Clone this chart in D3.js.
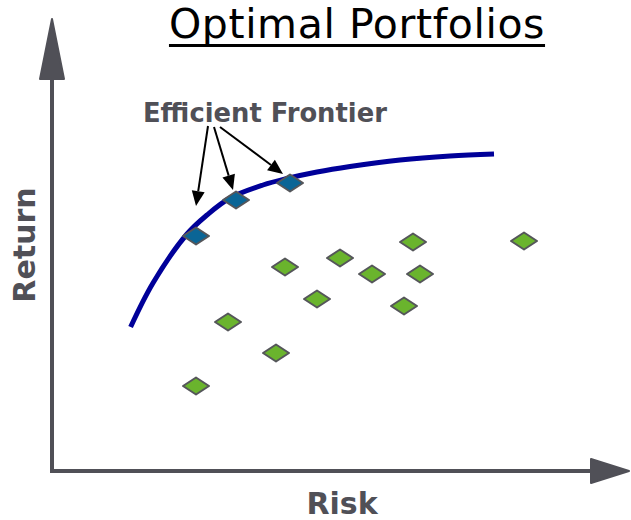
<!DOCTYPE html>
<html>
<head>
<meta charset="utf-8">
<script src="https://cdn.jsdelivr.net/npm/d3@7"></script>
<style>
  html, body { margin: 0; padding: 0; background: #fff; }
  svg { display: block; }
</style>
</head>
<body>
<svg id="chart" width="631" height="520"></svg>
<script>
// Random portfolios (risk, return)
const portfolioRisk   = [11.65, 13.25, 14.4, 16.0, 18.05, 18.4, 17.6, 8.8, 11.2, 7.2, 23.6];
const portfolioReturn = [10.2, 8.6, 10.65, 9.85, 11.45, 9.85, 8.25, 7.45, 5.9, 4.25, 11.5];

// Portfolios lying on the efficient frontier
const efficientRisk   = [7.2, 9.2, 11.9];
const efficientReturn = [11.75, 13.55, 14.4];

// Efficient frontier curve
const frontierRisk   = [3.93, 5.05, 6.75, 7.75, 8.9, 10.55, 11.75, 13.25, 14.9, 17.4, 19.9, 22.1];
const frontierReturn = [7.2, 9.4, 11.85, 12.8, 13.65, 14.3, 14.625, 14.95, 15.225, 15.55, 15.75, 15.85];

// Annotation arrow targets (risk, return)
const arrowRisk   = [7.2, 9.05, 11.55];
const arrowReturn = [13.25, 14.05, 14.85];

const titleText = "Optimal Portfolios";
const annotationText = "Efficient Frontier";
const xLabel = "Risk";
const yLabel = "Return";

const svg = d3.select("#chart");
const axisColor = "#505057";

const x = d3.scaleLinear().domain([0, 28.85]).range([52, 629]);
const y = d3.scaleLinear().domain([0, 22.6]).range([471, 19]);

// Title with underline
const title = svg.append("text")
  .attr("x", 357).attr("y", 38)
  .attr("text-anchor", "middle")
  .attr("font-family", "DejaVu Sans, Verdana, sans-serif")
  .attr("font-size", 41)
  .attr("letter-spacing", 0.6)
  .attr("fill", "#000")
  .text(titleText);
const tb = title.node().getBBox();
svg.append("line")
  .attr("x1", tb.x).attr("x2", tb.x + tb.width)
  .attr("y1", 45.5).attr("y2", 45.5)
  .attr("stroke", "#000").attr("stroke-width", 3);

// Axes with arrowheads
const [xLeft, xTip] = x.range();
const [yBottom, yTip] = y.range();
svg.append("line")
  .attr("x1", xLeft).attr("x2", xLeft)
  .attr("y1", yBottom + 2).attr("y2", yTip + 50)
  .attr("stroke", axisColor).attr("stroke-width", 4);
svg.append("line")
  .attr("x1", xLeft - 2).attr("x2", xTip - 30)
  .attr("y1", yBottom).attr("y2", yBottom)
  .attr("stroke", axisColor).attr("stroke-width", 4);
// y arrowhead
svg.append("path")
  .attr("d", `M${xLeft},${yTip} L${xLeft + 12},${yTip + 60} L${xLeft - 12},${yTip + 60} Z`)
  .attr("fill", axisColor).attr("stroke", axisColor).attr("stroke-width", 2).attr("stroke-linejoin", "round");
// x arrowhead
svg.append("path")
  .attr("d", `M${xTip},${yBottom} L${xTip - 38},${yBottom - 12} L${xTip - 38},${yBottom + 12} Z`)
  .attr("fill", axisColor).attr("stroke", axisColor).attr("stroke-width", 2).attr("stroke-linejoin", "round");

// Axis labels
svg.append("text")
  .attr("x", 342).attr("y", 514)
  .attr("text-anchor", "middle")
  .attr("font-family", "DejaVu Sans, Verdana, sans-serif")
  .attr("font-weight", "bold").attr("font-size", 30)
  .attr("fill", axisColor)
  .text(xLabel);
svg.append("text")
  .attr("transform", "translate(35,245) rotate(-90)")
  .attr("text-anchor", "middle")
  .attr("font-family", "DejaVu Sans, Verdana, sans-serif")
  .attr("font-weight", "bold").attr("font-size", 30)
  .attr("fill", axisColor)
  .text(yLabel);

// Efficient frontier curve
const frontier = frontierRisk.map((r, i) => [r, frontierReturn[i]]);
const line = d3.line()
  .x(d => x(d[0])).y(d => y(d[1]))
  .curve(d3.curveCatmullRom.alpha(0.5));
svg.append("path")
  .datum(frontier)
  .attr("d", line)
  .attr("fill", "none")
  .attr("stroke", "#000099")
  .attr("stroke-width", 5);

// Diamond markers
const diamond = (cx, cy) => `M${cx - 13},${cy} L${cx},${cy - 8.5} L${cx + 13},${cy} L${cx},${cy + 8.5} Z`;

const portfolios = portfolioRisk.map((r, i) => ({ risk: r, ret: portfolioReturn[i] }));
svg.append("g").selectAll("path")
  .data(portfolios)
  .join("path")
  .attr("d", d => diamond(x(d.risk), y(d.ret)))
  .attr("fill", "#6ab42d")
  .attr("stroke", "#55565a")
  .attr("stroke-width", 2)
  .attr("stroke-linejoin", "round");

const efficient = efficientRisk.map((r, i) => ({ risk: r, ret: efficientReturn[i] }));
svg.append("g").selectAll("path")
  .data(efficient)
  .join("path")
  .attr("d", d => diamond(x(d.risk), y(d.ret)))
  .attr("fill", "#0a6596")
  .attr("stroke", "#55565a")
  .attr("stroke-width", 2)
  .attr("stroke-linejoin", "round");

// Annotation label
svg.append("text")
  .attr("x", 143).attr("y", 122)
  .attr("font-family", "DejaVu Sans, Verdana, sans-serif")
  .attr("font-weight", "bold").attr("font-size", 25.8)
  .attr("fill", axisColor)
  .text(annotationText);

// Annotation arrows
const starts = [[208, 126], [214, 127], [220, 127]];
const arrows = svg.append("g");
arrowRisk.forEach((r, i) => {
  const tx = x(r), ty = y(arrowReturn[i]);
  const [sx, sy] = starts[i];
  const ang = Math.atan2(ty - sy, tx - sx);
  const len = 15, half = 6.5;
  const bx = tx - len * Math.cos(ang), by = ty - len * Math.sin(ang);
  arrows.append("line")
    .attr("x1", sx).attr("y1", sy).attr("x2", bx).attr("y2", by)
    .attr("stroke", "#000").attr("stroke-width", 2);
  const px = -Math.sin(ang) * half, py = Math.cos(ang) * half;
  arrows.append("path")
    .attr("d", `M${tx},${ty} L${bx + px},${by + py} L${bx - px},${by - py} Z`)
    .attr("fill", "#000");
});
</script>
</body>
</html>
